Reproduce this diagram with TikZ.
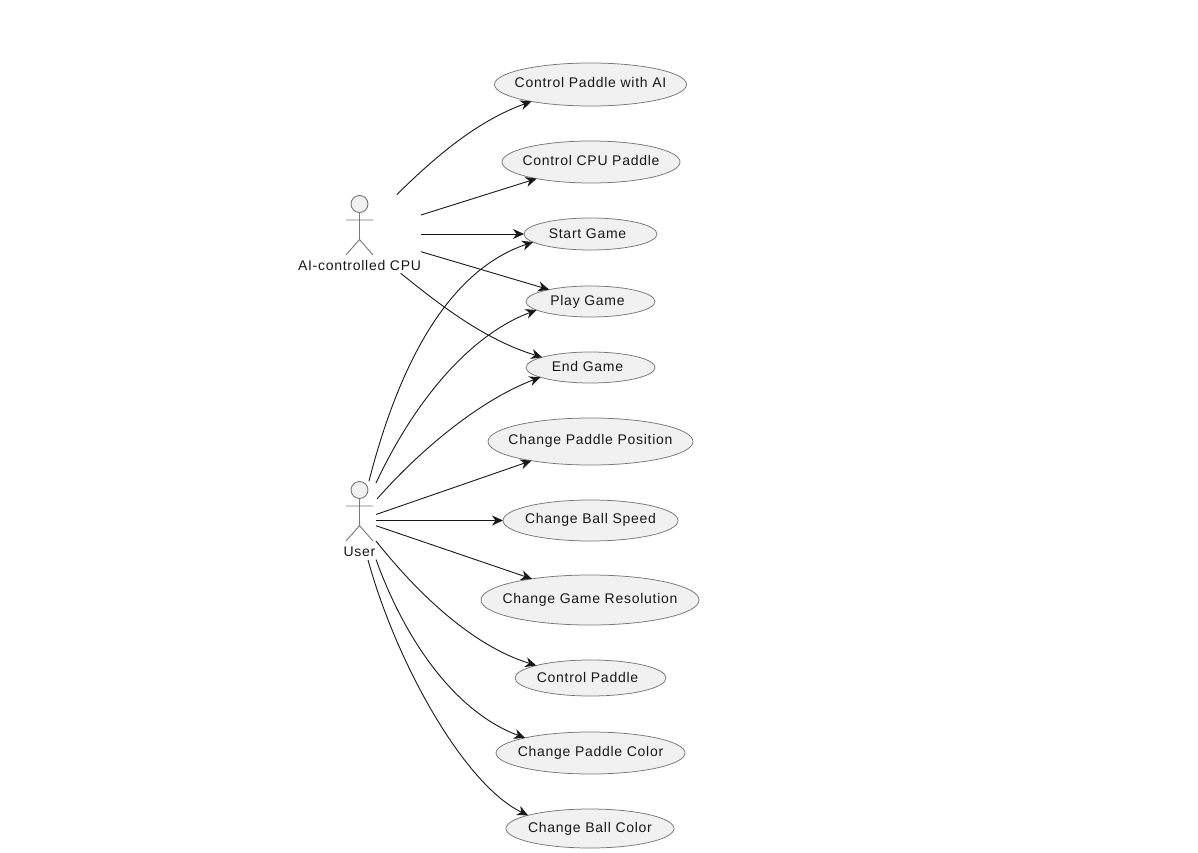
\documentclass[tikz,border=0pt]{standalone}
\usepackage{fontspec}
\setmainfont[LetterSpace=5.2]{Liberation Sans}
\usetikzlibrary{arrows.meta,shapes.geometric}
\definecolor{ink}{HTML}{181818}
\definecolor{soft}{HTML}{F1F1F1}
\definecolor{edgegrey}{HTML}{777777}
\newcommand{\ucase}[3][0pt]{\hspace*{#1}\makebox[0pt]{\raisebox{#2}{#3}}}
\tikzset{
  usecase/.style={ellipse,draw=edgegrey,fill=soft,line width=0.75pt,inner sep=0pt,outer sep=0pt},
  stick/.style={draw=edgegrey,line width=0.9pt},
  headnode/.style={circle,draw=edgegrey,fill=soft,line width=0.9pt,inner sep=0pt,minimum size=17pt},
  actorlabel/.style={text=ink,font=\fontsize{14}{16}\selectfont,inner sep=0pt},
  link/.style={draw=ink,line width=0.9pt,-{Stealth[length=11pt,width=10pt,inset=3.5pt]}}
}
\begin{document}
\begin{tikzpicture}[x=1pt,y=-1pt,every node/.append style={text=ink,font=\fontsize{14}{16}\selectfont}]
\useasboundingbox[fill=white] (0,0) rectangle (1198,853);
% use cases
\node[usecase,minimum width=192pt,minimum height=43pt] (e1) at (590.5,84.5) {\ucase{3.2pt}{Control Paddle with AI}};
\node[usecase,minimum width=178pt,minimum height=42pt] (e2) at (591,162) {\ucase{2.5pt}{Control CPU Paddle}};
\node[usecase,minimum width=133pt,minimum height=32pt] (e3) at (590.5,234) {\ucase[-6pt]{1.5pt}{Start Game}};
\node[usecase,minimum width=129pt,minimum height=31pt] (e4) at (590.5,301.5) {\ucase[-6pt]{1.5pt}{Play Game}};
\node[usecase,minimum width=129pt,minimum height=31pt] (e5) at (590.5,367.5) {\ucase[-6pt]{1.5pt}{End Game}};
\node[usecase,minimum width=205pt,minimum height=47pt] (e6) at (590.5,441.5) {\ucase{3.2pt}{Change Paddle Position}};
\node[usecase,minimum width=175pt,minimum height=41pt] (e7) at (590.5,520.5) {\ucase{3.2pt}{Change Ball Speed}};
\node[usecase,minimum width=218pt,minimum height=50pt] (e8) at (590,600) {\ucase{1.5pt}{Change Game Resolution}};
\node[usecase,minimum width=151pt,minimum height=36pt] (e9) at (590.5,678) {\ucase[-6pt]{1.5pt}{Control Paddle}};
\node[usecase,minimum width=189pt,minimum height=42pt] (e10) at (590.5,753) {\ucase{1.5pt}{Change Paddle Color}};
\node[usecase,minimum width=168pt,minimum height=39pt] (e11) at (590,828.5) {\ucase{1.5pt}{Change Ball Color}};
% actor: AI-controlled CPU
\node[headnode] (cpuhead) at (359.5,204) {};
\coordinate (cpuhip) at (359.5,239.5);
\coordinate (cpularm) at (346,220);
\coordinate (cpurarm) at (373,220);
\coordinate (cpulfoot) at (346,255);
\coordinate (cpurfoot) at (373,255);
\draw[stick] (cpuhead.south) -- (cpuhip) (cpularm) -- (cpurarm) (cpulfoot) -- (cpuhip) -- (cpurfoot);
\node[actorlabel] (cpulabel) at (359.5,265) {AI-controlled CPU};
% actor: User
\node[headnode] (userhead) at (359.5,490) {};
\coordinate (userhip) at (359.5,525.7);
\coordinate (userlarm) at (346,506);
\coordinate (userrarm) at (373,506);
\coordinate (userlfoot) at (346,541);
\coordinate (userrfoot) at (373,541);
\draw[stick] (userhead.south) -- (userhip) (userlarm) -- (userrarm) (userlfoot) -- (userhip) -- (userrfoot);
\node[actorlabel] (userlabel) at (359.5,551.7) {User};
% free connector ends near the actors
\coordinate (c1) at (396.7,194.7);
\coordinate (c2) at (421,215);
\coordinate (c3) at (421,234);
\coordinate (c4) at (421,251.7);
\coordinate (c5) at (400.7,273.3);
\coordinate (u3) at (369,481);
\coordinate (u4) at (376,483);
\coordinate (u5) at (377,499);
\coordinate (u6) at (376,514.5);
\coordinate (u7) at (376,520.5);
\coordinate (u8) at (376,525.7);
\coordinate (u9) at (376,541);
\coordinate (u10) at (376,559.5);
\coordinate (u11) at (368,560);
% connectors
\draw[link] (c1) .. controls (440,152) and (480,120) .. (e1.196.5);
\draw[link] (c2) -- (e2.197);
\draw[link] (c3) -- (e3.180);
\draw[link] (c4) -- (e4.164.4);
\draw[link] (c5) .. controls (440,305) and (485,340) .. (e5.168.4);
\draw[link] (u3) .. controls (400,360) and (450,270) .. (e3.188);
\draw[link] (u4) .. controls (415,400) and (470,335) .. (e4.189);
\draw[link] (u5) .. controls (420,450) and (480,400) .. (e5.191);
\draw[link] (u6) -- (e6.198.8);
\draw[link] (u7) -- (e7.180);
\draw[link] (u8) -- (e8.160.7);
\draw[link] (u9) .. controls (415,590) and (470,645) .. (e9.167.4);
\draw[link] (u10) .. controls (405,640) and (455,712) .. (e10.167.1);
\draw[link] (u11) .. controls (397,665) and (465,785) .. (e11.168.5);
\end{tikzpicture}
\end{document}
